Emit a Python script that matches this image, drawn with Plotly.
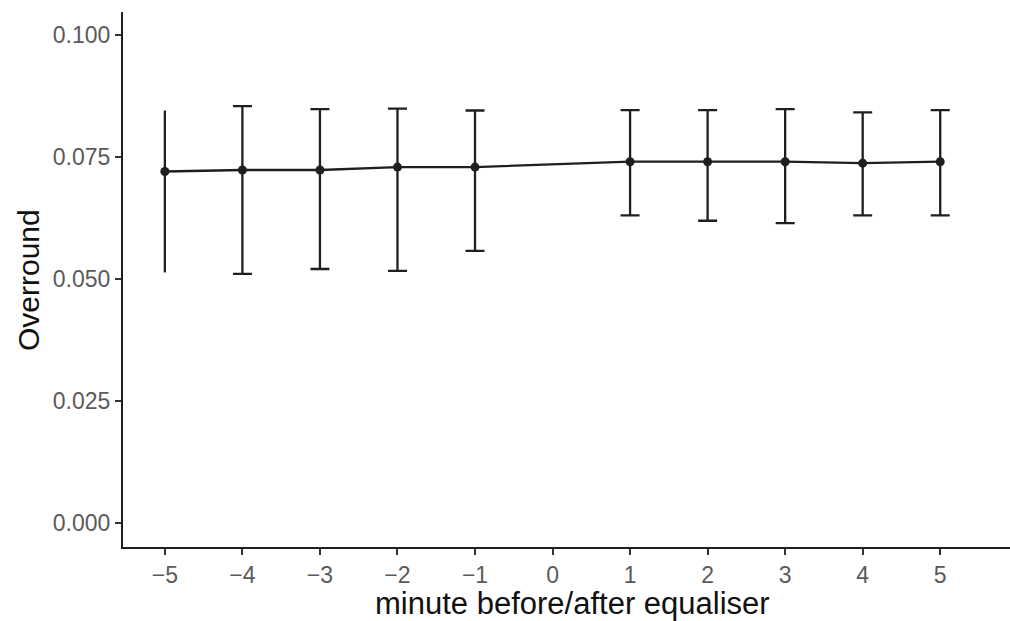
import plotly.graph_objects as go

minutes = [-5, -4, -3, -2, -1, 1, 2, 3, 4, 5]
overround = [0.0720, 0.0723, 0.0723, 0.0729, 0.0729, 0.0740, 0.0740, 0.0740, 0.0737, 0.0740]
upper = [0.0845, 0.0854, 0.0848, 0.0849, 0.0845, 0.0846, 0.0846, 0.0848, 0.0841, 0.0846]
lower = [0.0513, 0.0510, 0.0520, 0.0516, 0.0557, 0.0630, 0.0619, 0.0614, 0.0630, 0.0630]
capped = [False, True, True, True, True, True, True, True, True, True]

x_ticks = [-5, -4, -3, -2, -1, 0, 1, 2, 3, 4, 5]
y_ticks = [0.0, 0.025, 0.05, 0.075, 0.1]
y_tick_text = ["0.000", "0.025", "0.050", "0.075", "0.100"]

x_title = "minute before/after equaliser"
y_title = "Overround"

ink = "#1f1f1f"
fig = go.Figure()

for flag, cap in [(True, 9.5), (False, 0)]:
    idx = [i for i, c in enumerate(capped) if c == flag]
    fig.add_trace(go.Scatter(
        x=[minutes[i] for i in idx],
        y=[overround[i] for i in idx],
        mode="markers",
        marker=dict(size=1, color="rgba(0,0,0,0)"),
        error_y=dict(
            type="data", symmetric=False,
            array=[upper[i] - overround[i] for i in idx],
            arrayminus=[overround[i] - lower[i] for i in idx],
            color=ink, thickness=2.3, width=cap,
        ),
        showlegend=False, hoverinfo="skip",
    ))

fig.add_trace(go.Scatter(
    x=minutes, y=overround, mode="lines+markers",
    line=dict(color=ink, width=2.3),
    marker=dict(color=ink, size=9),
    showlegend=False,
))

L, R, T, B = 123, 0, 12, 74
W, H = 1010, 621
pw, ph = W - L - R, H - T - B

fig.update_layout(
    width=W, height=H,
    margin=dict(l=L, r=R, t=T, b=B, autoexpand=False),
    paper_bgcolor="white", plot_bgcolor="white",
    font=dict(family="Liberation Sans, Arial, sans-serif"),
    xaxis=dict(
        range=[-5.54, 5.9], tickvals=x_ticks, automargin=False,
        showline=True, linecolor=ink, linewidth=2,
        ticks="outside", ticklen=6, tickwidth=1.5, tickcolor="#333333",
        tickfont=dict(size=23, color="#5a5a5a"),
        showgrid=False, zeroline=False,
    ),
    yaxis=dict(
        range=[-0.005, 0.1047], tickvals=y_ticks, ticktext=y_tick_text, automargin=False,
        showline=True, linecolor=ink, linewidth=2,
        ticks="outside", ticklen=6, tickwidth=1.5, tickcolor="#333333",
        tickfont=dict(size=23, color="#5a5a5a"),
        showgrid=False, zeroline=False,
    ),
    annotations=[
        dict(text=x_title, xref="paper", yref="paper",
             x=(572 - L) / pw, y=(H - B - 603) / ph,
             xanchor="center", yanchor="middle", showarrow=False,
             font=dict(size=31, color="#111111")),
        dict(text=y_title, xref="paper", yref="paper",
             x=(28 - L) / pw, y=(H - B - 280) / ph, textangle=-90,
             xanchor="center", yanchor="middle", showarrow=False,
             font=dict(size=30, color="#111111")),
    ],
)

fig.write_html(
    "out.html",
    config={"displayModeBar": False},
    post_script="document.body.style.margin='0px';document.body.style.overflow='hidden';",
)
